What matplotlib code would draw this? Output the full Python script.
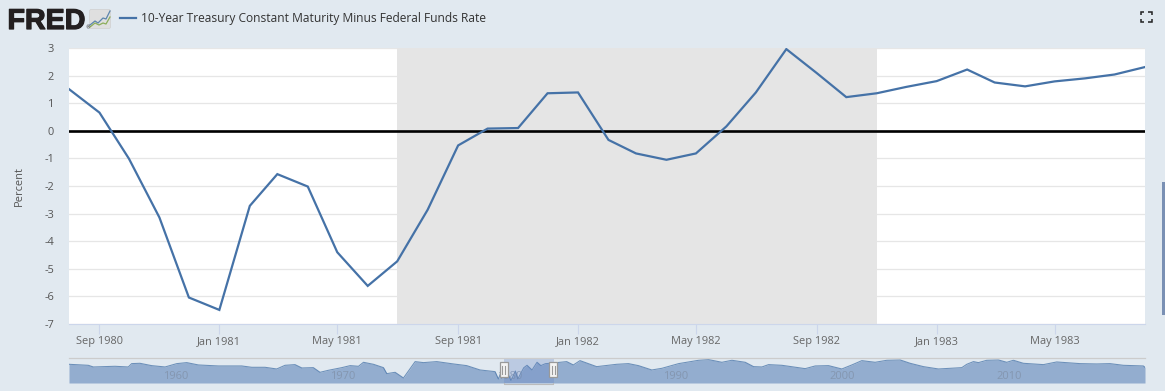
import matplotlib
matplotlib.use("Agg")
import matplotlib.pyplot as plt
import matplotlib.patheffects as pe
from matplotlib.patches import Rectangle, FancyBboxPatch
import pandas as pd

TITLE = "10-Year Treasury Constant Maturity Minus Federal Funds Rate"
start_month = "1980-08-01"
spread = [1.51, 0.66, -1.01, -3.14, -6.04, -6.49, -2.72, -1.57, -2.02, -4.40, -5.62, -4.73,
          -2.86, -0.53, 0.08, 0.10, 1.36, 1.39, -0.33, -0.82, -1.05, -0.82, 0.16, 1.39,
          2.96, 2.09, 1.22, 1.36, 1.59, 1.80, 2.22, 1.75, 1.61, 1.79, 1.90, 2.04, 2.31]
recession = ("1981-07-01", "1982-11-01")
y_ticks = [3, 2, 1, 0, -1, -2, -3, -4, -5, -6, -7]
x_tick_dates = ["1980-09-01", "1981-01-01", "1981-05-01", "1981-09-01", "1982-01-01",
                "1982-05-01", "1982-09-01", "1983-01-01", "1983-05-01"]
x_tick_labels = ["Sep 1980", "Jan 1981", "May 1981", "Sep 1981", "Jan 1982",
                 "May 1982", "Sep 1982", "Jan 1983", "May 1983"]

nav_years = [1954.5, 1955.66, 1955.96, 1957.26, 1958.06, 1958.26, 1958.76, 1959.46, 1960.27, 1960.97,
             1961.57, 1962.27, 1963.47, 1964.87, 1965.47, 1966.27, 1966.97, 1967.47, 1968.07, 1968.48,
             1969.17, 1969.57, 1970.07, 1970.88, 1971.38, 1971.88, 1972.18, 1972.78, 1973.38, 1973.58,
             1974.08, 1974.58, 1975.28, 1975.78, 1976.58, 1977.58, 1978.38, 1979.18, 1980.08, 1980.28,
             1980.6, 1981.04, 1981.3, 1981.45, 1981.8, 1982.0, 1982.3, 1982.6, 1982.83, 1983.1,
             1983.6, 1984.38, 1984.78, 1985.18, 1986.18, 1987.38, 1988.09, 1988.69, 1989.49, 1990.1,
             1991.1, 1992.3, 1992.9, 1993.7, 1994.3, 1995.1, 1995.6, 1996.1, 1996.5, 1997.3,
             1998.7, 1999.3, 2000.1, 2000.9, 2001.5, 2002.1, 2002.9, 2003.6, 2004.4, 2005.0,
             2005.8, 2006.7, 2008.1, 2008.4, 2008.8, 2009.1, 2009.6, 2010.3, 2010.8, 2011.2,
             2011.8, 2013.0, 2013.8, 2015.2, 2016.2, 2017.0, 2017.8, 2019.0, 2019.1]
nav_values = [1.9, 1.38, 0.52, 0.87, 0.52, 2.25, 2.42, 1.21, 0.52, 2.25,
              2.77, 1.56, 1.04, 1.04, 0.35, 0.35, -0.52, 1.38, 1.73, 0.0,
              0.17, -2.25, -1.21, 0.17, 1.21, 0.87, 2.94, 1.9, 0.17, -2.94,
              -2.25, -5.19, 3.29, 2.77, 3.29, 2.08, 1.21, -1.04, -1.9, -5.71,
              1.5, -6.49, -1.57, -5.62, 0.1, 1.39, -1.05, 2.96, 1.22, 2.22,
              2.6, 3.29, 1.56, 3.8, 0.69, 1.9, 2.25, 1.21, -1.04, -0.17,
              2.25, 3.98, 4.33, 2.94, 3.98, 2.94, 0.69, 0.52, 1.73, 1.38,
              -0.35, 1.04, 1.21, -0.52, 1.56, 3.8, 2.94, 3.98, 4.15, 2.42,
              0.69, -0.52, 0.17, 1.9, 3.29, 2.77, 3.98, 4.15, 2.94, 3.98,
              2.42, 1.73, 3.11, 2.25, 2.08, 2.25, 1.38, 1.04, 0.35]
nav_labels = [1960, 1970, 1980, 1990, 2000, 2010]
nav_selection = (1980.6, 1983.6)

W, H = 1165, 391
BG = "#e1e9f0"
BLUE = "#4572a7"
plt.rcParams["font.family"] = ["Open Sans", "DejaVu Sans"]

fig = plt.figure(figsize=(W / 100, H / 100), dpi=100, facecolor=BG)


def rect(x0, y0, x1, y1):
    return [x0 / W, 1 - y1 / H, (x1 - x0) / W, (y1 - y0) / H]


# main plot
ax = fig.add_axes(rect(69, 48, 1145, 324), facecolor="white")
dates = pd.date_range(start_month, periods=len(spread), freq="MS")
ax.set_xlim(dates[0], dates[-1])
ax.set_ylim(-7, 3)
for v in y_ticks:
    ax.axhline(v, color="#e6e6e6", lw=0.9, zorder=1)
ax.axvspan(pd.Timestamp(recession[0]), pd.Timestamp(recession[1]), color="#e5e5e5", lw=0, zorder=2)
ax.axhline(0, color="black", lw=1.9, zorder=3)
ax.plot(dates, spread, color=BLUE, lw=1.6, zorder=4, solid_joinstyle="miter", clip_on=True)
for s in ["top", "left", "right"]:
    ax.spines[s].set_visible(False)
ax.spines["bottom"].set_color("#ccd6eb")
ax.spines["bottom"].set_linewidth(0.8)
ax.set_yticks(y_ticks)
ax.set_yticklabels([str(v) for v in y_ticks], fontsize=7.9, color="#555555")
ax.tick_params(axis="y", length=0, pad=10.8)
ax.set_xticks([pd.Timestamp(d) for d in x_tick_dates])
ax.set_xticklabels(x_tick_labels, fontsize=7.9, color="#666666")
ax.tick_params(axis="x", length=7, width=0.8, color="#ccd6eb", pad=1.5)
ax.set_ylabel("Percent", fontsize=7.9, color="#555555")
ax.yaxis.set_label_coords((24.5 - 69) / (1145 - 69), 0.5)

# navigator
nav = fig.add_axes(rect(69, 358.3, 1145, 383), facecolor="none")
nav.set_xlim(1954.5, 2019.1)
nav.set_ylim(-7.79, 5.0)
nav.fill_between(nav_years, nav_values, -7.79, color="#93adcf", lw=0, zorder=1)
nav.plot(nav_years, nav_values, color=BLUE, lw=0.75, alpha=0.75, zorder=2)
nav.axis("off")
for yr in nav_labels:
    nav.text(yr + 0.93, -4.4, str(yr), fontsize=8, color="#7f8fa6", alpha=0.75,
             ha="center", va="center", zorder=3)
nav.axvspan(nav_selection[0], nav_selection[1], color="#6685c2", alpha=0.3, lw=0, zorder=4)

# overlay in pixels
ov = fig.add_axes([0, 0, 1, 1], facecolor="none")
ov.set_xlim(0, W)
ov.set_ylim(H, 0)
ov.axis("off")
ov.plot([69, 1145], [358.3, 358.3], color="#cccccc", lw=0.9)
ov.plot([503.6, 503.6, 553.4, 553.4], [383, 383.6, 383.6, 383], color="#bbbbbb", lw=0.8)
for hx in (503.6, 553.4):
    ov.add_patch(Rectangle((hx - 4, 362), 8, 15, fc="#f4f4f4", ec="#999999", lw=0.9, zorder=6))
    for dx in (-1.3, 1.3):
        ov.plot([hx + dx, hx + dx], [365.5, 373.5], color="#999999", lw=0.8, zorder=7)

# header
ov.text(7.5, 29, "FRED", fontsize=20.6, fontweight="bold", family="Liberation Sans",
        color="#231f20", ha="left", va="baseline",
        path_effects=[pe.withStroke(linewidth=0.9, foreground="#231f20")])
ov.text(85.2, 29, "®", fontsize=3.5, color="#231f20", ha="left", va="baseline", family="DejaVu Sans")
ov.add_patch(FancyBboxPatch((90, 10), 20, 18, boxstyle="round,pad=0.6,rounding_size=2",
                            fc="#dfdfdf", ec="#d0d0d0", lw=0.5))
ov.plot([90, 95, 98, 103, 106, 110], [25, 21, 23, 18, 19, 11], color="#5c85ad", lw=0.9)
ov.plot([90, 95, 99, 103, 106, 110], [27, 23, 25, 23, 24, 17], color="#8cae5b", lw=0.9)
ov.plot([120, 136], [18.3, 18.3], color=BLUE, lw=1.6)
ov.text(141, 18.5, TITLE, fontsize=8.65, color="#333333", ha="left", va="center")

# full-screen corners
for cx, cy, sx, sy in [(1140.5, 11.5, 1, 1), (1151.5, 11.5, -1, 1), (1140.5, 22, 1, -1), (1151.5, 22, -1, -1)]:
    ov.plot([cx + 3.5 * sx, cx, cx], [cy, cy, cy + 3.5 * sy], color="#222222", lw=1.1,
            solid_joinstyle="miter", solid_capstyle="butt")

# page scrollbar
ov.add_patch(Rectangle((1162, 182), 3, 133, fc="#7a90b4", ec="none"))

fig.savefig("out.png", dpi=100, facecolor=BG)
